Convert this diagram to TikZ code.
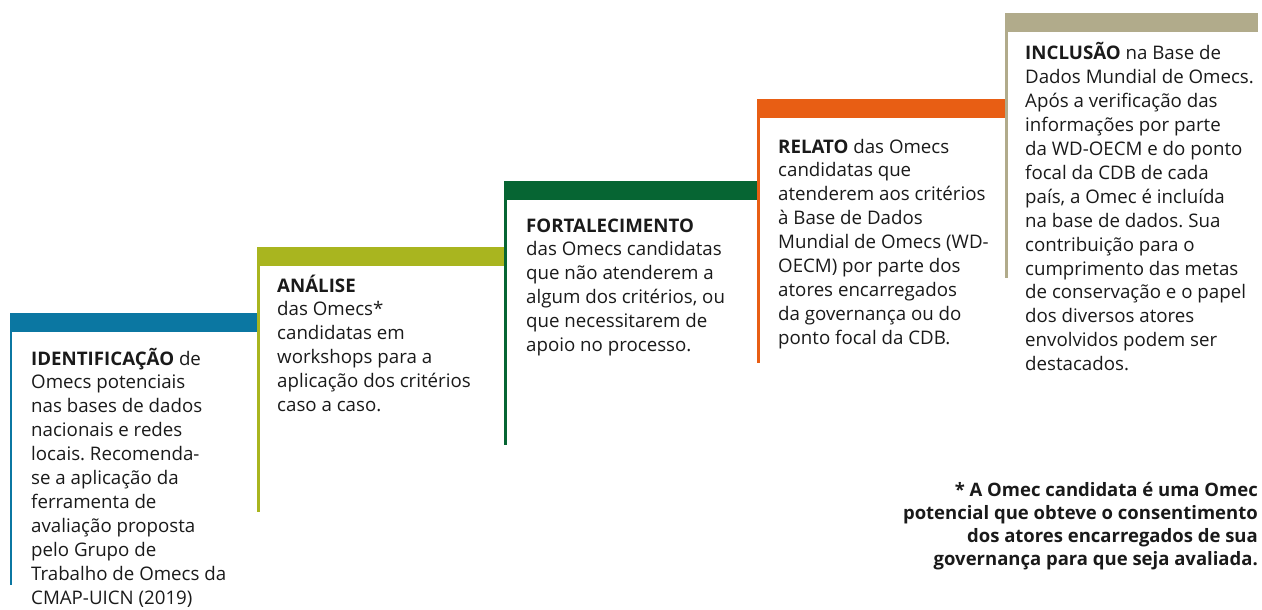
\documentclass[tikz,border=0pt]{standalone}
\usepackage{fontspec}
\setmainfont{Open Sans}
\frenchspacing
\definecolor{cblue}{RGB}{11,119,162}
\definecolor{colive}{RGB}{169,181,31}
\definecolor{cgreen}{RGB}{6,101,51}
\definecolor{corange}{RGB}{232,94,20}
\definecolor{ckhaki}{RGB}{177,171,139}
\definecolor{ctext}{RGB}{26,26,26}
\newcommand{\bodyfmt}{\fontsize{18.7pt}{23.9pt}\selectfont\frenchspacing}
\newcommand{\notefmt}{\fontsize{18.5pt}{23.3pt}\selectfont\bfseries\frenchspacing}
\tikzset{
  steptxt/.style={anchor=base west, inner sep=0pt, text=ctext, font=\bodyfmt},
  notetxt/.style={anchor=base east, inner sep=0pt, text=ctext, font=\notefmt},
}
\begin{document}
\begin{tikzpicture}[x=1pt,y=-1pt]
\useasboundingbox (0,0) rectangle (1262,610);
% step bars and lines
\fill[cblue]   (9.5,313) rectangle (258,332);
\fill[cblue]   (9.5,313) rectangle (12.2,585);
\fill[colive]  (257,247) rectangle (505,266);
\fill[colive]  (257,247) rectangle (259.7,512);
\fill[cgreen]  (504,181) rectangle (757,200);
\fill[cgreen]  (504,181) rectangle (506.7,445);
\fill[corange] (757,99) rectangle (1005,118);
\fill[corange] (757,99) rectangle (759.7,363);
\fill[ckhaki]  (1005,13) rectangle (1258,32);
\fill[ckhaki]  (1005,13) rectangle (1007.7,278);
% texts
\node[steptxt] (t1) at (31,365) {\parbox[t]{240pt}{\bodyfmt\textbf{IDENTIFICAÇÃO} de\\Omecs potenciais\\nas bases de dados\\nacionais e redes\\locais. Recomenda-\\se a aplicação da\\ferramenta de\\avaliação proposta\\pelo Grupo de\\Trabalho de Omecs da\\CMAP-UICN (2019)}};
\node[steptxt] (t2) at (277,292) {\parbox[t]{240pt}{\bodyfmt\textbf{ANÁLISE}\\das Omecs*\\candidatas em\\workshops para a\\aplicação dos critérios\\caso a caso.}};
\node[steptxt] (t3) at (526,232) {\parbox[t]{240pt}{\bodyfmt\textbf{FORTALECIMENTO}\\das Omecs candidatas\\que não atenderem a\\algum dos critérios, ou\\que necessitarem de\\apoio no processo.}};
\node[steptxt] (t4) at (778,153) {\parbox[t]{240pt}{\bodyfmt\textbf{RELATO} das Omecs\\candidatas que\\atenderem aos critérios\\à Base de Dados\\Mundial de Omecs (WD-\\OECM) por parte dos\\atores encarregados\\da governança ou do\\ponto focal da CDB.}};
\node[steptxt] (t5) at (1025,60) {\parbox[t]{240pt}{\bodyfmt\textbf{INCLUSÃO} na Base de\\Dados Mundial de Omecs.\\Após a verificação das\\informações por parte\\da WD-OECM e do ponto\\focal da CDB de cada\\país, a Omec é incluída\\na base de dados. Sua\\contribuição para o\\cumprimento das metas\\de conservação e o papel\\dos diversos atores\\envolvidos podem ser\\destacados.}};
\node[notetxt] (note) at (1258,496) {\parbox[t]{420pt}{\notefmt\raggedleft * A Omec candidata é uma Omec\\potencial que obteve o consentimento\\dos atores encarregados de sua\\governança para que seja avaliada.}};
\end{tikzpicture}
\end{document}
